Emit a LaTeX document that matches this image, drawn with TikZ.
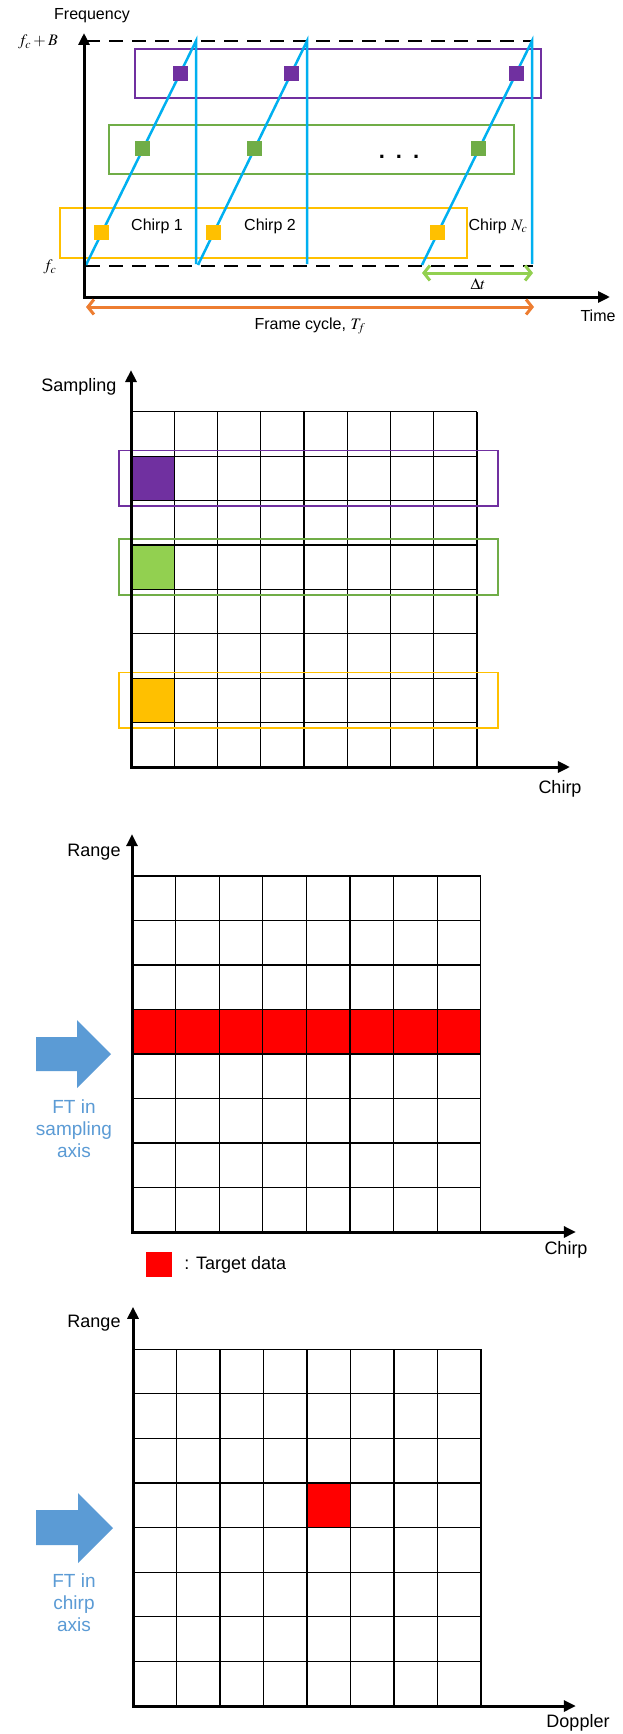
\documentclass[tikz,border=0pt]{standalone}
\usepackage{mathptmx}
\usepackage{fontspec}
\setmainfont{Liberation Sans}
\usepackage{xcolor}
\usetikzlibrary{arrows.meta, positioning, calc}

\definecolor{chirpcyan}{HTML}{00B0F0}
\definecolor{boxpurple}{HTML}{7030A0}
\definecolor{boxgreen}{HTML}{70AD47}
\definecolor{cellgreen}{HTML}{92D050}
\definecolor{boxyellow}{HTML}{FFC000}
\definecolor{frameorange}{HTML}{ED7D31}
\definecolor{ftblue}{HTML}{5B9BD5}

\begin{document}
\begin{tikzpicture}[x=1pt, y=-1pt,
    lbl/.style={font=\fontsize{16}{19}\selectfont, inner sep=1pt},
    axlbl/.style={font=\fontsize{18}{21}\selectfont, inner sep=1pt},
    ftlbl/.style={font=\fontsize{19}{22}\selectfont, text=ftblue, align=center, inner sep=0pt},
    axis/.style={line width=3pt, >={Triangle[length=12pt,width=11pt]}, <->},
    span/.style={line width=3pt, >={Straight Barb[length=6pt,width=15pt]}, <->},
    chirp/.style={chirpcyan, line width=2.5pt},
    dashline/.style={line width=2pt, dash pattern=on 14pt off 9pt},
    framebox/.style={line width=1.8pt},
    gridline/.style={line width=1.2pt},
    sq/.style={minimum size=15pt, inner sep=0pt},
    ftarrow/.style={fill=ftblue}
]
\useasboundingbox[fill=white] (0,0) rectangle (622,1734);

% Frequency - time
\coordinate (o1) at (84,297);
\coordinate (v1) at (84,33);
\coordinate (h1) at (610,297);
\draw[dashline] (86,41) -- (533,41);
\draw[dashline] (86,266) -- (533,266);

\draw[framebox, boxpurple] (135,49) rectangle (541,98);
\draw[framebox, boxgreen] (109,125) rectangle (514,174);
\draw[framebox, boxyellow] (60,208) rectangle (467,258);

\foreach \s/\t [count=\i] in {86/196, 198/307, 422/532} {
  \draw[chirp] (\s,265) -- (\t,41)
    node[sq, fill=boxyellow, pos=0.143] (yel\i) {}
    node[sq, fill=boxgreen, pos=0.518] (grn\i) {}
    node[sq, fill=boxpurple, pos=0.857] (pur\i) {}
    -- (\t,264);
}
\draw[axis] (v1) -- (o1) -- (h1);

\node[lbl] (freq) at (92,16) {Frequency};
\node[lbl, anchor=east] (fc_b) at (59,42) {$f_c+B$};
\node[lbl] (fc) at (50,267) {$f_c$};
\node[lbl] (chirp_one) at (157,226) {Chirp 1};
\node[lbl] (chirp_two) at (270,226) {Chirp 2};
\node[lbl] (chirp_last) at (498,226) {Chirp $N_c$};
\node[font=\fontsize{22}{22}\selectfont\bfseries, inner sep=0pt] (dots) at (399,157) {.\hspace{11pt}.\hspace{11pt}.};
\node[lbl] (time) at (598,316) {Time};

\coordinate (dt_a) at (422,273);
\coordinate (dt_b) at (533,273);
\draw[span, cellgreen] (dt_a) -- (dt_b);
\node[lbl] (dt) at (478,284) {$\Delta t$};

\coordinate (tf_a) at (86,307);
\coordinate (tf_b) at (534,307);
\draw[span, frameorange] (tf_a) -- (tf_b);
\node[lbl] (frame_cycle) at (310,326) {Frame cycle, $T_f$};

% Sampling - chirp
\begin{scope}[shift={(131,767)}, x=43.25pt, y=44.4pt]
  \fill[boxpurple] (0,6) rectangle (1,7);
  \fill[cellgreen] (0,4) rectangle (1,5);
  \fill[boxyellow] (0,1) rectangle (1,2);
  \foreach \k in {0,...,8} {
    \draw[gridline] (\k,0) -- (\k,8);
    \draw[gridline] (0,\k) -- (8,\k);
  }
  \draw[framebox, boxpurple] (-0.28,5.87) rectangle (8.49,7.13);
  \draw[framebox, boxgreen] (-0.28,3.87) rectangle (8.49,5.13);
  \draw[framebox, boxyellow] (-0.28,0.87) rectangle (8.49,2.13);
  \coordinate (o2) at (0,0);
  \coordinate (v2) at (0,8.94);
  \coordinate (h2) at (10.15,0);
  \draw[axis] (v2) -- (o2) -- (h2);
\end{scope}
\node[axlbl] (sampling) at (79,387) {Sampling};
\node[axlbl] (chirp_a) at (560,789) {Chirp};

% Range - chirp
\begin{scope}[shift={(132,1232)}, x=43.6pt, y=44.5pt]
  \fill[red] (0,4) rectangle (8,5);
  \foreach \k in {0,...,8} {
    \draw[gridline] (\k,0) -- (\k,8);
    \draw[gridline] (0,\k) -- (8,\k);
  }
  \coordinate (o3) at (0,0);
  \coordinate (v3) at (0,8.94);
  \coordinate (h3) at (10.18,0);
  \draw[axis] (v3) -- (o3) -- (h3);
\end{scope}
\node[axlbl] (range_a) at (94,852) {Range};
\node[axlbl] (chirp_b) at (566,1250) {Chirp};
\node[fill=red, minimum width=26pt, minimum height=25pt, inner sep=0pt] (target_sq) at (159,1264.5) {};
\node[axlbl, right=9pt of target_sq, inner sep=3pt] (target) {: Target data};

\coordinate (ft_a) at (111,1054);
\fill[ftarrow] (ft_a) -- ++(-34,-34) -- ++(0,17) -- ++(-41,0) -- ++(0,34) -- ++(41,0) -- ++(0,17) -- cycle;
\node[ftlbl] (ft_sampling) at (74,1129) {FT in\\sampling\\axis};

% Range - Doppler
\begin{scope}[shift={(133,1706)}, x=43.5pt, y=44.6pt]
  \fill[red] (4,4) rectangle (5,5);
  \foreach \k in {0,...,8} {
    \draw[gridline] (\k,0) -- (\k,8);
    \draw[gridline] (0,\k) -- (8,\k);
  }
  \coordinate (o4) at (0,0);
  \coordinate (v4) at (0,8.95);
  \coordinate (h4) at (10.18,0);
  \draw[axis] (v4) -- (o4) -- (h4);
\end{scope}
\node[axlbl] (range_b) at (94,1323) {Range};
\node[axlbl] (doppler) at (578,1723) {Doppler};

\coordinate (ft_b) at (113,1528);
\fill[ftarrow] (ft_b) -- ++(-35,-35) -- ++(0,17) -- ++(-42,0) -- ++(0,35) -- ++(42,0) -- ++(0,18) -- cycle;
\node[ftlbl] (ft_chirp) at (74,1603) {FT in\\chirp\\axis};

\end{tikzpicture}
\end{document}
